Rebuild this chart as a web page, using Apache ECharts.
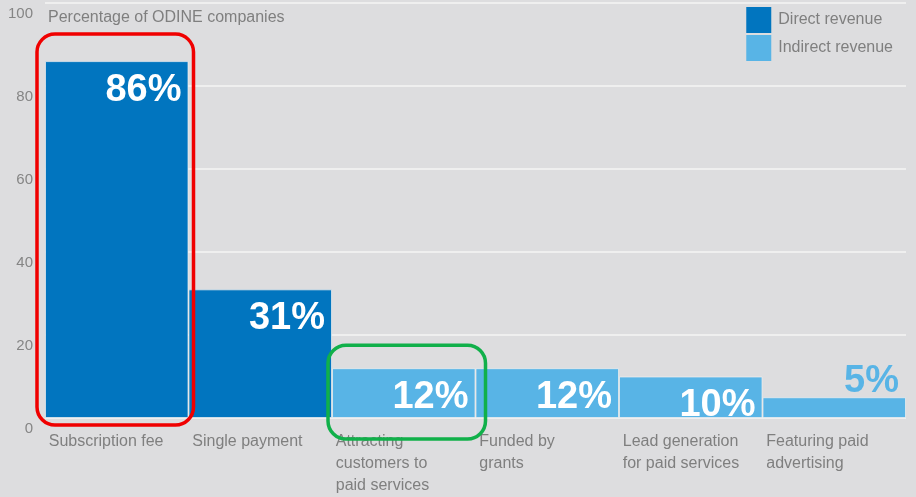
<!DOCTYPE html>
<html>
<head>
<meta charset="utf-8">
<script src="https://cdn.jsdelivr.net/npm/echarts@6/dist/echarts.min.js"></script>
<style>
  html, body { margin: 0; padding: 0; background: #dddddf; }
  #chart { width: 916px; height: 497px; }
</style>
</head>
<body>
<div id="chart"></div>
<script>
// --- data ---
const categories = [
  'Subscription fee',
  'Single payment',
  'Attracting\ncustomers to\npaid services',
  'Funded by\ngrants',
  'Lead generation\nfor paid services',
  'Featuring paid\nadvertising'
]
const directValues   = [86, 31, '-', '-', '-', '-']
const indirectValues = ['-', '-', 12, 12, 10, 5]
const yTicks = { min: 0, max: 100, interval: 20 }

const DARK  = '#0175bf'
const LIGHT = '#58b4e6'
const GREY  = '#7f7f7f'
const FONT  = '"Liberation Sans", Arial, sans-serif'

// small bars get their label above the bar, in the bar colour
const makeData = (arr, color) => arr.map(v => {
  if (v === '-' || v >= 8) return v
  return {
    value: v,
    label: { color: color, offset: [0, -42] }
  }
})

const chart = echarts.init(document.getElementById('chart'))

const barLabel = {
  show: true,
  position: 'insideTopRight',
  distance: 7,
  offset: [0, 3],
  formatter: '{c}%',
  color: '#fff',
  fontSize: 38,
  fontWeight: 'bold',
  fontFamily: FONT
}

chart.setOption({
  backgroundColor: '#dddddf',
  animation: false,
  textStyle: { fontFamily: FONT },
  title: {
    text: 'Percentage of ODINE companies',
    left: 43,
    top: 5,
    textStyle: { fontSize: 16, fontWeight: 'normal', color: GREY, fontFamily: FONT }
  },
  legend: {
    orient: 'vertical',
    right: 18,
    top: 2,
    itemWidth: 25,
    itemHeight: 26,
    itemGap: 2,
    icon: 'rect',
    itemStyle: { borderWidth: 0 },
    textStyle: { fontSize: 16, color: GREY, padding: [0, 0, 0, 2] },
    data: ['Direct revenue', 'Indirect revenue']
  },
  grid: { left: 45, right: 10, top: 3, bottom: 79 },
  xAxis: {
    type: 'category',
    data: categories,
    axisLine: { show: false },
    axisTick: { show: false },
    axisLabel: {
      interval: 0,
      margin: 13,
      align: 'center',
      formatter: v => v.split('\n').map(s => '{a|' + s + '}').join('\n'),
      rich: {
        a: { width: 136, align: 'left', fontSize: 16, lineHeight: 22, color: GREY, fontFamily: FONT }
      }
    }
  },
  yAxis: {
    type: 'value',
    min: yTicks.min,
    max: yTicks.max,
    interval: yTicks.interval,
    axisLine: { show: false },
    axisTick: { show: false },
    axisLabel: {
      margin: 12,
      fontSize: 15,
      color: '#858585',
      verticalAlign: 'top',
      lineHeight: 22
    },
    splitLine: { lineStyle: { color: '#f4f4f4', width: 1.5 } }
  },
  series: [
    {
      name: 'Direct revenue',
      type: 'bar',
      data: makeData(directValues, DARK),
      barGap: '-100%',
      barCategoryGap: '0%',
      itemStyle: { color: DARK, borderColor: 'rgba(240,240,240,0.7)', borderWidth: 1 },
      label: barLabel
    },
    {
      name: 'Indirect revenue',
      type: 'bar',
      data: makeData(indirectValues, LIGHT),
      barGap: '-100%',
      barCategoryGap: '0%',
      itemStyle: { color: LIGHT, borderColor: 'rgba(240,240,240,0.7)', borderWidth: 1 },
      label: barLabel
    }
  ]
})

// --- highlight boxes, placed from the axes ---
const px = (i, v) => chart.convertToPixel({ gridIndex: 0 }, [i, v])
const catW = px(1, 0)[0] - px(0, 0)[0]
const box = (i, v, pad, color) => {
  const c = px(i, v)
  const base = px(i, 0)
  const left = c[0] - catW / 2 - pad[3]
  const right = c[0] + catW / 2 + pad[1]
  const top = c[1] - pad[0]
  const bottom = base[1] + pad[2]
  return {
    type: 'rect',
    z: 100,
    shape: { x: left, y: top, width: right - left, height: bottom - top, r: 18 },
    style: { fill: 'none', stroke: color, lineWidth: 3.5 }
  }
}
chart.setOption({
  graphic: [
    box(0, directValues[0], [27, 5, 7, 8], '#f00000'),
    box(2, indirectValues[2], [23, 10, 21, 4], '#10b04a')
  ]
})
</script>
</body>
</html>
